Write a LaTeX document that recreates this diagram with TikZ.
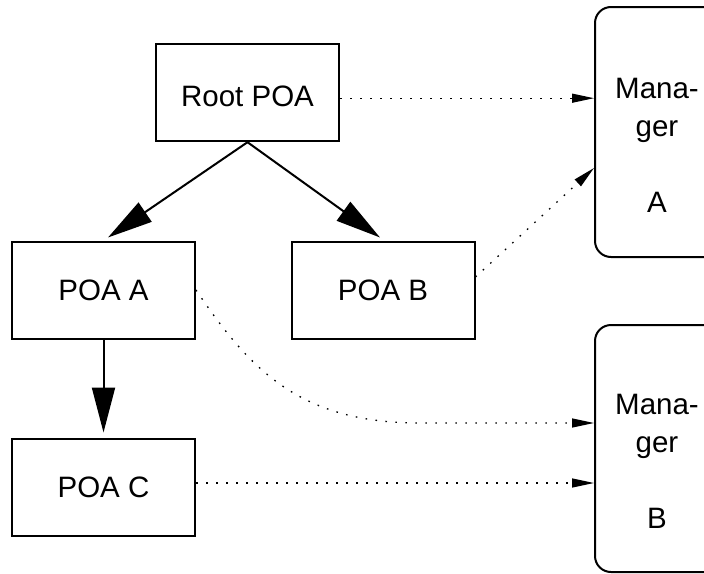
\documentclass[tikz,border=0pt]{standalone}
\usepackage{fontspec}
\setmainfont{Liberation Sans}
\usetikzlibrary{arrows.meta,calc}

\tikzset{
  poabox/.style={draw, line width=2pt, minimum width=183pt, minimum height=97pt,
    inner sep=0pt, font=\fontsize{29.5}{38}\selectfont},
  mgrbox/.style={draw, line width=2pt, rounded corners=16pt, minimum width=125pt,
    inner sep=0pt},
  mgrtext/.style={align=center, anchor=base, inner sep=0pt,
    font=\fontsize{29.5}{38}\selectfont},
  hierarchy/.style={line width=2pt, -{Triangle[length=45pt,width=23pt]}},
  managed/.style={line width=1.3pt, dash pattern=on 1.6pt off 8.4pt,
    -{Triangle[length=22pt,width=9pt]}}
}

\begin{document}
\begin{tikzpicture}[x=1pt, y=-1pt]
  \useasboundingbox (0,0) rectangle (704,573);
  \begin{scope}
    \clip (0,0) rectangle (704,573);

    % POA hierarchy
    \node[poabox, text height=27pt] (root) at (247.5,92.7) {Root POA};
    \node[poabox] (poaA) at (103.5,290) {POA A};
    \node[poabox] (poaB) at (383,290) {POA B};
    \node[poabox] (poaC) at (103.5,487) {POA C};

    % POA managers (the base anchor sits on the last line)
    \node[mgrbox, minimum height=250pt] (manA) at (657.5,132) {};
    \node[mgrbox, minimum height=247pt] (manB) at (657.5,448.5) {};
    \node[mgrtext] (manAtext) at (657,212) {Mana-\\ger\\[38pt]A};
    \node[mgrtext] (manBtext) at (657,528) {Mana-\\ger\\[38pt]B};

    % parent/child relations
    \draw[hierarchy] (root.south) -- ([xshift=4.5pt,yshift=3pt]poaA.north);
    \draw[hierarchy] (root.south) -- ([xshift=-3pt,yshift=3pt]poaB.north);
    \draw[hierarchy] (poaA.south) -- ([yshift=5pt]poaC.north);

    % manager assignments
    \draw[managed] ([yshift=-5.5pt]root.east) -- ([yshift=-5.5pt]root.east -| manA.west);
    \draw[managed] ([yshift=13pt]poaB.east) -- ([yshift=-36pt]manA.west);
    \draw[managed] (poaA.east) .. controls (250,370) and (300,423) .. (420,423)
      -- ([yshift=25.5pt]manB.west);
    \draw[managed] ([yshift=4pt]poaC.east) -- ([yshift=4pt]poaC.east -| manB.west);
  \end{scope}
\end{tikzpicture}
\end{document}
